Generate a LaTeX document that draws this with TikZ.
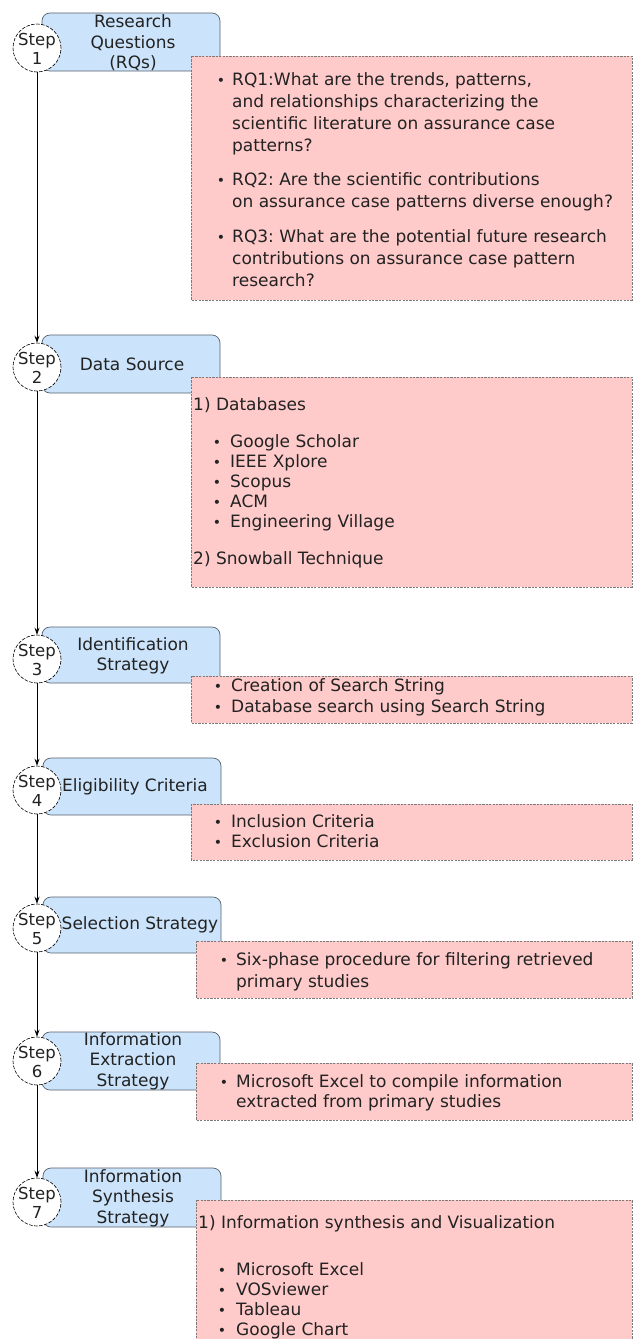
\documentclass[tikz,border=0pt]{standalone}
\usepackage{fontspec}
\setmainfont{DejaVu Sans}
\usetikzlibrary{arrows.meta}
\definecolor{bluefill}{HTML}{CCE4FB}
\definecolor{blueline}{HTML}{56616E}
\definecolor{pinkfill}{HTML}{FFCACA}
\definecolor{pinkline}{HTML}{7A7A7A}
\definecolor{ink}{HTML}{222222}
\frenchspacing
\begin{document}
\begin{tikzpicture}[x=1pt,y=-1pt,
  bluebox/.style={draw=blueline, fill=bluefill, line width=0.7pt, rounded corners=8pt},
  pinkbox/.style={draw=pinkline, fill=pinkfill, line width=0.6pt, dash pattern=on 2.2pt off 1.2pt},
  stepcirc/.style={circle, draw=black, fill=white, minimum size=48pt, inner sep=0pt, line width=0.6pt, dash pattern=on 3.5pt off 1.5pt},
  steptxt/.style={align=center, inner sep=0pt, text=ink, font=\fontsize{16.5}{19}\selectfont},
  headtxt/.style={align=center, inner sep=0pt, text=ink, font=\fontsize{17}{20.5}\selectfont},
  txt/.style={anchor=base west, inner sep=0pt, text=ink, font=\fontsize{17}{20}\selectfont},
  bul/.style={anchor=base, inner sep=0pt, text=ink, font=\fontsize{14}{14}\selectfont},
  arr/.style={-{Stealth[length=7pt,width=5pt]}, line width=0.8pt}
]
\useasboundingbox (0,0) rectangle (633,1339);

% blue boxes
\node[bluebox, minimum width=178pt, minimum height=58pt, inner sep=0pt] (b1) at (131,42) {};
\node[bluebox, minimum width=178pt, minimum height=58pt, inner sep=0pt] (b2) at (131,364) {};
\node[bluebox, minimum width=178pt, minimum height=56pt, inner sep=0pt] (b3) at (131,655) {};
\node[bluebox, minimum width=178pt, minimum height=57pt, inner sep=0pt] (b4) at (132,786.5) {};
\node[bluebox, minimum width=178pt, minimum height=56pt, inner sep=0pt] (b5) at (132,925) {};
\node[bluebox, minimum width=178pt, minimum height=58pt, inner sep=0pt] (b6) at (131,1061) {};
\node[bluebox, minimum width=178pt, minimum height=59pt, inner sep=0pt] (b7) at (132,1197.5) {};

\node[headtxt] (h1) at (133,43) {Research\\Questions\\(RQs)};
\node[headtxt] (h2) at (132,364) {Data Source};
\node[headtxt] (h3) at (133,656) {Identification\\Strategy};
\node[headtxt] (h4) at (135,787) {Eligibility Criteria};
\node[headtxt] (h5) at (140,925) {Selection Strategy};
\node[headtxt] (h6) at (133,1061) {Information\\Extraction\\Strategy};
\node[headtxt] (h7) at (133,1198) {Information\\Synthesis\\Strategy};

% pink boxes
\draw[pinkbox] (191,56) rectangle (632,300);
\draw[pinkbox] (191,377) rectangle (632,587);
\draw[pinkbox] (191,676) rectangle (632,723);
\draw[pinkbox] (191,804) rectangle (632,860);
\draw[pinkbox] (196,941) rectangle (632,998);
\draw[pinkbox] (196,1063) rectangle (632,1120);
\draw[pinkbox] (196,1200) rectangle (632,1342);

% box 1 text
\node[bul] (p1a) at (221,85.5) {•};
\node[txt] (p1b) at (232,85.5) {RQ1:What are the trends, patterns,};
\node[txt] (p1c) at (232,107.5) {and relationships characterizing the};
\node[txt] (p1d) at (232,129.5) {scientific literature on assurance case};
\node[txt] (p1e) at (232,151.5) {patterns?};
\node[bul] (p1f) at (221,185.5) {•};
\node[txt] (p1g) at (232,185.5) {RQ2: Are the scientific contributions};
\node[txt] (p1h) at (232,207.5) {on assurance case patterns diverse enough?};
\node[bul] (p1i) at (221,242.5) {•};
\node[txt] (p1j) at (232,242.5) {RQ3: What are the potential future research};
\node[txt] (p1k) at (232,264.5) {contributions on assurance case pattern};
\node[txt] (p1l) at (232,286.5) {research?};

% box 2 text
\node[txt] (p2a) at (193,410.5) {1) Databases};
\node[bul] (p2b) at (217,447.5) {•};
\node[txt] (p2c) at (230,447.5) {Google Scholar};
\node[bul] (p2d) at (217,467.5) {•};
\node[txt] (p2e) at (230,467.5) {IEEE Xplore};
\node[bul] (p2f) at (217,487.5) {•};
\node[txt] (p2g) at (230,487.5) {Scopus};
\node[bul] (p2h) at (217,507.5) {•};
\node[txt] (p2i) at (230,507.5) {ACM};
\node[bul] (p2j) at (217,527.5) {•};
\node[txt] (p2k) at (230,527.5) {Engineering Village};
\node[txt] (p2l) at (193,564.5) {2) Snowball Technique};

% box 3 text
\node[bul] (p3a) at (218,691.5) {•};
\node[txt] (p3b) at (231,691.5) {Creation of Search String};
\node[bul] (p3c) at (218,712.5) {•};
\node[txt] (p3d) at (231,712.5) {Database search using Search String};

% box 4 text
\node[bul] (p4a) at (218,827.5) {•};
\node[txt] (p4b) at (231,827.5) {Inclusion Criteria};
\node[bul] (p4c) at (218,847.5) {•};
\node[txt] (p4d) at (231,847.5) {Exclusion Criteria};

% box 5 text
\node[bul] (p5a) at (224,965.5) {•};
\node[txt] (p5b) at (236,965.5) {Six-phase procedure for filtering retrieved};
\node[txt] (p5c) at (236,987.5) {primary studies};

% box 6 text
\node[bul] (p6a) at (224,1087.5) {•};
\node[txt] (p6b) at (236,1087.5) {Microsoft Excel to compile information};
\node[txt] (p6c) at (236,1107.5) {extracted from primary studies};

% box 7 text
\node[txt] (p7a) at (198,1228.5) {1) Information synthesis and Visualization};
\node[bul] (p7b) at (222,1275.5) {•};
\node[txt] (p7c) at (236,1275.5) {Microsoft Excel};
\node[bul] (p7d) at (222,1295.5) {•};
\node[txt] (p7e) at (236,1295.5) {VOSviewer};
\node[bul] (p7f) at (222,1315.5) {•};
\node[txt] (p7g) at (236,1315.5) {Tableau};
\node[bul] (p7h) at (222,1335.5) {•};
\node[txt] (p7i) at (236,1335.5) {Google Chart};

% step circles
\node[stepcirc] (c1) at (37,48) {};
\node[stepcirc] (c2) at (37,367) {};
\node[stepcirc] (c3) at (37,659) {};
\node[stepcirc] (c4) at (37,790) {};
\node[stepcirc] (c5) at (37,928) {};
\node[stepcirc] (c6) at (37,1061) {};
\node[stepcirc] (c7) at (37,1202) {};

\node[steptxt] (s1) at (37,49) {Step\\1};
\node[steptxt] (s2) at (37,368) {Step\\2};
\node[steptxt] (s3) at (37,660) {Step\\3};
\node[steptxt] (s4) at (37,791) {Step\\4};
\node[steptxt] (s5) at (37,929) {Step\\5};
\node[steptxt] (s6) at (37,1062) {Step\\6};
\node[steptxt] (s7) at (37,1203) {Step\\7};

% connectors
\draw[arr] (c1.south) -- (c2.north);
\draw[arr] (c2.south) -- (c3.north);
\draw[arr] (c3.south) -- (c4.north);
\draw[arr] (c4.south) -- (c5.north);
\draw[arr] (c5.south) -- (c6.north);
\draw[arr] (c6.south) -- (c7.north);
\end{tikzpicture}
\end{document}
